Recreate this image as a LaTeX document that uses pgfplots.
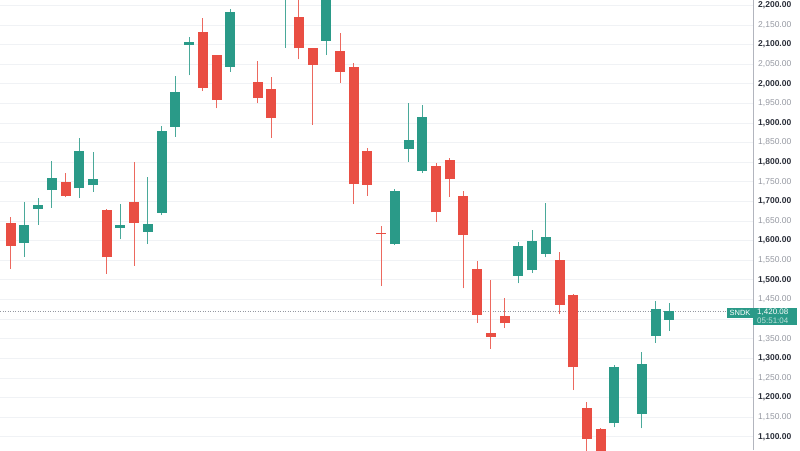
\documentclass[border=0pt]{standalone}
\usepackage{pgfplots}
\pgfplotsset{compat=1.18}
\usepackage{pgfplotstable}
\usepackage{fontspec}
\setmainfont{Liberation Sans}
\definecolor{upc}{HTML}{2A9A88}
\definecolor{dnc}{HTML}{E94E43}
\definecolor{gridc}{HTML}{F0F2F5}
\definecolor{lbl}{HTML}{2A2E39}
\definecolor{lbllight}{HTML}{9598A1}
\definecolor{axc}{HTML}{B2B5BE}

\pgfplotstableread{
x lo hi low high
1 1594 1641 1559 1698
2 1680 1692 1640 1708
3 1729 1760 1684 1804
5 1733 1829 1709 1861
6 1741 1757 1725 1826
8 1632 1640 1603 1693
10 1623 1642 1591 1763
11 1671 1880 1665 1892
12 1890 1979 1865 2020
13 2099 2106 2021 2118
16 2043 2184 2031 2190
17 2240 2270 2225 2290
20 2250 2270 2092 2290
23 2109 2235 2073 2240
28 1591 1727 1589 1732
29 1834 1857 1801 1952
30 1778 1914 1772 1946
37 1511 1587 1491 1597
38 1525 1598 1517 1627
39 1566 1608 1557 1695
44 1134 1278 1124 1282
46 1158 1286 1121 1317
47 1357 1426 1340 1447
48 1398 1420.08 1370 1442
}\updata

\pgfplotstableread{
x lo hi low high
0 1587 1644 1527 1660
4 1714 1749 1710 1772
7 1557 1678 1515 1680
9 1646 1699 1536 1801
14 1990 2133 1981 2167
15 1958 2072 1937 2074
18 1963 2005 1950 2058
19 1913 1987 1862 2018
21 2090 2169 2062 2230
22 2048 2090 1895 2092
24 2031 2083 2003 2129
25 1744 2042 1693 2052
26 1742 1828 1714 1835
27 1617 1620 1484 1637
31 1672 1791 1648 1797
32 1756 1805 1712 1811
33 1614 1714 1478 1727
34 1411 1527 1391 1549
35 1354 1364 1324 1500
36 1389 1408 1377 1453
40 1436 1551 1412 1570
41 1277 1461 1219 1463
42 1094 1172 1060 1188
43 1040 1119 1020 1121
}\dndata

\newcommand\B[1]{\textbf{\color{lbl}#1}}
\newcommand\Lg[1]{{\color{lbllight}#1}}

\begin{document}
\begin{tikzpicture}
\useasboundingbox (0,0) rectangle (800pt,450pt);
\begin{axis}[
  at={(0,0)}, anchor=south west,
  scale only axis, width=753pt, height=450pt,
  xmin=-0.78, xmax=54.1,
  ymin=1066.1, ymax=2213.5,
  axis x line=none,
  axis y line*=right,
  y axis line style={draw=axc, line width=0.8pt},
  major tick length=0pt,
  xtick={0,3,...,42,46,49,52},
  ytick={1100,1150,...,2200},
  yticklabels={{\B{1,100.00}},{\Lg{1,150.00}},{\B{1,200.00}},{\Lg{1,250.00}},{\B{1,300.00}},{\Lg{1,350.00}},{},{\Lg{1,450.00}},{\B{1,500.00}},{\Lg{1,550.00}},{\B{1,600.00}},{\Lg{1,650.00}},{\B{1,700.00}},{\Lg{1,750.00}},{\B{1,800.00}},{\Lg{1,850.00}},{\B{1,900.00}},{\Lg{1,950.00}},{\B{2,000.00}},{\Lg{2,050.00}},{\B{2,100.00}},{\Lg{2,150.00}},{\B{2,200.00}}},
  yticklabel style={font=\fontsize{8.5}{10}\selectfont, anchor=west, inner sep=0pt, xshift=5pt},
  xmajorgrids, ymajorgrids,
  major grid style={draw=gridc, line width=0.7pt},
  candle/.style={forget plot, draw=none, mark=none, error bars/.cd, y dir=plus, y explicit, error mark=none},
]
\addplot[forget plot, draw=lbllight, line width=0.6pt, dash pattern=on 1pt off 1.5pt] coordinates {(-0.78,1420.08) (54.1,1420.08)};
% wicks
\addplot[candle, error bar style={line width=1pt, draw=upc!85}] table[x=x, y=low, y error expr=\thisrow{high}-\thisrow{low}] {\updata};
\addplot[candle, error bar style={line width=1pt, draw=dnc!85}] table[x=x, y=low, y error expr=\thisrow{high}-\thisrow{low}] {\dndata};
% bodies
\addplot[candle, error bar style={line width=10pt, draw=upc}] table[x=x, y=lo, y error expr=\thisrow{hi}-\thisrow{lo}] {\updata};
\addplot[candle, error bar style={line width=10pt, draw=dnc}] table[x=x, y=lo, y error expr=\thisrow{hi}-\thisrow{lo}] {\dndata};
\end{axis}
% last price tag
\fill[upc] (753pt,125pt) rectangle (797pt,142pt);
\node[anchor=west, inner sep=0pt, text=white, font=\fontsize{8}{9}\selectfont] at (757pt,137.3pt) {1,420.08};
\node[anchor=west, inner sep=0pt, text=white!70!upc, font=\fontsize{8}{9}\selectfont] at (757pt,129.3pt) {05:51:04};
\fill[upc] (727pt,132.3pt) rectangle (753pt,141.7pt);
\node[inner sep=0pt, text=white, font=\fontsize{7.5}{9}\selectfont] at (740pt,137pt) {SNDK};
\end{tikzpicture}
\end{document}
